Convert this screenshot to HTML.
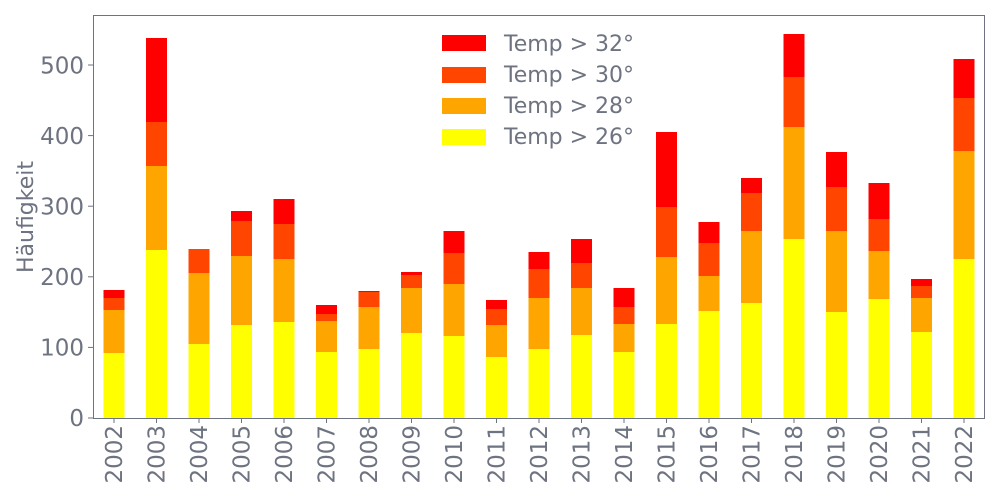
<!DOCTYPE html>
<html><head><meta charset="utf-8"><style>body{margin:0;background:#fff}svg{display:block}text{font-family:"DejaVu Sans","Liberation Sans",sans-serif;fill:#6e7381}.y{fill:#ffff00}.o{fill:#ffa500}.r1{fill:#ff4500}.r{fill:#ff0000}</style></head><body>
<svg width="1000" height="500" xmlns="http://www.w3.org/2000/svg">
<g>
<g transform="translate(103.5,0)"><rect class="y" width="21" y="353" height="65"/><rect class="o" width="21" y="310" height="43"/><rect class="r1" width="21" y="298" height="12"/><rect class="r" width="21" y="290" height="8"/></g>
<g transform="translate(146,0)"><rect class="y" width="21" y="250" height="168"/><rect class="o" width="21" y="166" height="84"/><rect class="r1" width="21" y="122" height="44"/><rect class="r" width="21" y="38" height="84"/></g>
<g transform="translate(188.5,0)"><rect class="y" width="21" y="344" height="74"/><rect class="o" width="21" y="273" height="71"/><rect class="r1" width="21" y="249" height="24"/></g>
<g transform="translate(231,0)"><rect class="y" width="21" y="325" height="93"/><rect class="o" width="21" y="256" height="69"/><rect class="r1" width="21" y="221" height="35"/><rect class="r" width="21" y="211" height="10"/></g>
<g transform="translate(273.5,0)"><rect class="y" width="21" y="322" height="96"/><rect class="o" width="21" y="259" height="63"/><rect class="r1" width="21" y="224" height="35"/><rect class="r" width="21" y="199" height="25"/></g>
<g transform="translate(316,0)"><rect class="y" width="21" y="352" height="66"/><rect class="o" width="21" y="321" height="31"/><rect class="r1" width="21" y="314" height="7"/><rect class="r" width="21" y="305" height="9"/></g>
<g transform="translate(358.5,0)"><rect class="y" width="21" y="349" height="69"/><rect class="o" width="21" y="307" height="42"/><rect class="r1" width="21" y="292" height="15"/><rect class="r" width="21" y="291" height="1"/></g>
<g transform="translate(401,0)"><rect class="y" width="21" y="333" height="85"/><rect class="o" width="21" y="288" height="45"/><rect class="r1" width="21" y="275" height="13"/><rect class="r" width="21" y="272" height="3"/></g>
<g transform="translate(443.5,0)"><rect class="y" width="21" y="336" height="82"/><rect class="o" width="21" y="284" height="52"/><rect class="r1" width="21" y="253" height="31"/><rect class="r" width="21" y="231" height="22"/></g>
<g transform="translate(486,0)"><rect class="y" width="21" y="357" height="61"/><rect class="o" width="21" y="325" height="32"/><rect class="r1" width="21" y="309" height="16"/><rect class="r" width="21" y="300" height="9"/></g>
<g transform="translate(528.5,0)"><rect class="y" width="21" y="349" height="69"/><rect class="o" width="21" y="298" height="51"/><rect class="r1" width="21" y="269" height="29"/><rect class="r" width="21" y="252" height="17"/></g>
<g transform="translate(571,0)"><rect class="y" width="21" y="335" height="83"/><rect class="o" width="21" y="288" height="47"/><rect class="r1" width="21" y="263" height="25"/><rect class="r" width="21" y="239" height="24"/></g>
<g transform="translate(613.5,0)"><rect class="y" width="21" y="352" height="66"/><rect class="o" width="21" y="324" height="28"/><rect class="r1" width="21" y="307" height="17"/><rect class="r" width="21" y="288" height="19"/></g>
<g transform="translate(656,0)"><rect class="y" width="21" y="324" height="94"/><rect class="o" width="21" y="257" height="67"/><rect class="r1" width="21" y="207" height="50"/><rect class="r" width="21" y="132" height="75"/></g>
<g transform="translate(698.5,0)"><rect class="y" width="21" y="311" height="107"/><rect class="o" width="21" y="276" height="35"/><rect class="r1" width="21" y="243" height="33"/><rect class="r" width="21" y="222" height="21"/></g>
<g transform="translate(741,0)"><rect class="y" width="21" y="303" height="115"/><rect class="o" width="21" y="231" height="72"/><rect class="r1" width="21" y="193" height="38"/><rect class="r" width="21" y="178" height="15"/></g>
<g transform="translate(783.5,0)"><rect class="y" width="21" y="239" height="179"/><rect class="o" width="21" y="127" height="112"/><rect class="r1" width="21" y="77" height="50"/><rect class="r" width="21" y="34" height="43"/></g>
<g transform="translate(826,0)"><rect class="y" width="21" y="312" height="106"/><rect class="o" width="21" y="231" height="81"/><rect class="r1" width="21" y="187" height="44"/><rect class="r" width="21" y="152" height="35"/></g>
<g transform="translate(868.5,0)"><rect class="y" width="21" y="299" height="119"/><rect class="o" width="21" y="251" height="48"/><rect class="r1" width="21" y="219" height="32"/><rect class="r" width="21" y="183" height="36"/></g>
<g transform="translate(911,0)"><rect class="y" width="21" y="332" height="86"/><rect class="o" width="21" y="298" height="34"/><rect class="r1" width="21" y="286" height="12"/><rect class="r" width="21" y="279" height="7"/></g>
<g transform="translate(953.5,0)"><rect class="y" width="21" y="259" height="159"/><rect class="o" width="21" y="151" height="108"/><rect class="r1" width="21" y="98" height="53"/><rect class="r" width="21" y="59" height="39"/></g>
</g>
<rect x="93.5" y="15.5" width="891" height="403" fill="none" stroke="#6e7381" stroke-width="1"/>
<g stroke="#6e7381" stroke-width="1">
<line x1="88" x2="93" y1="418" y2="418"/><line x1="88" x2="93" y1="347.4" y2="347.4"/><line x1="88" x2="93" y1="276.8" y2="276.8"/><line x1="88" x2="93" y1="206.2" y2="206.2"/><line x1="88" x2="93" y1="135.6" y2="135.6"/><line x1="88" x2="93" y1="65" y2="65"/>
</g>
<g font-size="23" text-anchor="end">
<text x="84" y="426">0</text><text x="84" y="355.5">100</text><text x="84" y="285">200</text><text x="84" y="214.5">300</text><text x="84" y="144">400</text><text x="84" y="73.5">500</text>
</g>
<text transform="translate(33,217) rotate(-90)" font-size="22" text-anchor="middle">Häufigkeit</text>
<g stroke="#6e7381"><line x1="114" x2="114" y1="418" y2="423"/><line x1="156.5" x2="156.5" y1="418" y2="423"/><line x1="199" x2="199" y1="418" y2="423"/><line x1="241.5" x2="241.5" y1="418" y2="423"/><line x1="284" x2="284" y1="418" y2="423"/><line x1="326.5" x2="326.5" y1="418" y2="423"/><line x1="369" x2="369" y1="418" y2="423"/><line x1="411.5" x2="411.5" y1="418" y2="423"/><line x1="454" x2="454" y1="418" y2="423"/><line x1="496.5" x2="496.5" y1="418" y2="423"/><line x1="539" x2="539" y1="418" y2="423"/><line x1="581.5" x2="581.5" y1="418" y2="423"/><line x1="624" x2="624" y1="418" y2="423"/><line x1="666.5" x2="666.5" y1="418" y2="423"/><line x1="709" x2="709" y1="418" y2="423"/><line x1="751.5" x2="751.5" y1="418" y2="423"/><line x1="794" x2="794" y1="418" y2="423"/><line x1="836.5" x2="836.5" y1="418" y2="423"/><line x1="879" x2="879" y1="418" y2="423"/><line x1="921.5" x2="921.5" y1="418" y2="423"/><line x1="964" x2="964" y1="418" y2="423"/></g>
<g font-size="23" text-anchor="end">
<text transform="translate(122,425) rotate(-90)">2002</text>
<text transform="translate(164.5,425) rotate(-90)">2003</text>
<text transform="translate(207,425) rotate(-90)">2004</text>
<text transform="translate(249.5,425) rotate(-90)">2005</text>
<text transform="translate(292,425) rotate(-90)">2006</text>
<text transform="translate(334.5,425) rotate(-90)">2007</text>
<text transform="translate(377,425) rotate(-90)">2008</text>
<text transform="translate(419.5,425) rotate(-90)">2009</text>
<text transform="translate(462,425) rotate(-90)">2010</text>
<text transform="translate(504.5,425) rotate(-90)">2011</text>
<text transform="translate(547,425) rotate(-90)">2012</text>
<text transform="translate(589.5,425) rotate(-90)">2013</text>
<text transform="translate(632,425) rotate(-90)">2014</text>
<text transform="translate(674.5,425) rotate(-90)">2015</text>
<text transform="translate(717,425) rotate(-90)">2016</text>
<text transform="translate(759.5,425) rotate(-90)">2017</text>
<text transform="translate(802,425) rotate(-90)">2018</text>
<text transform="translate(844.5,425) rotate(-90)">2019</text>
<text transform="translate(887,425) rotate(-90)">2020</text>
<text transform="translate(929.5,425) rotate(-90)">2021</text>
<text transform="translate(972,425) rotate(-90)">2022</text>
</g>
<g font-size="22">
<rect x="442" y="35" width="44" height="16" fill="#ff0000"/><text x="504" y="51">Temp &gt; 32°</text>
<rect x="442" y="67" width="44" height="16" fill="#ff4500"/><text x="504" y="82">Temp &gt; 30°</text>
<rect x="442" y="98" width="44" height="16" fill="#ffa500"/><text x="504" y="113">Temp &gt; 28°</text>
<rect x="442" y="129" width="44" height="16" fill="#ffff00"/><text x="504" y="144">Temp &gt; 26°</text>
</g>
</svg></body></html>
